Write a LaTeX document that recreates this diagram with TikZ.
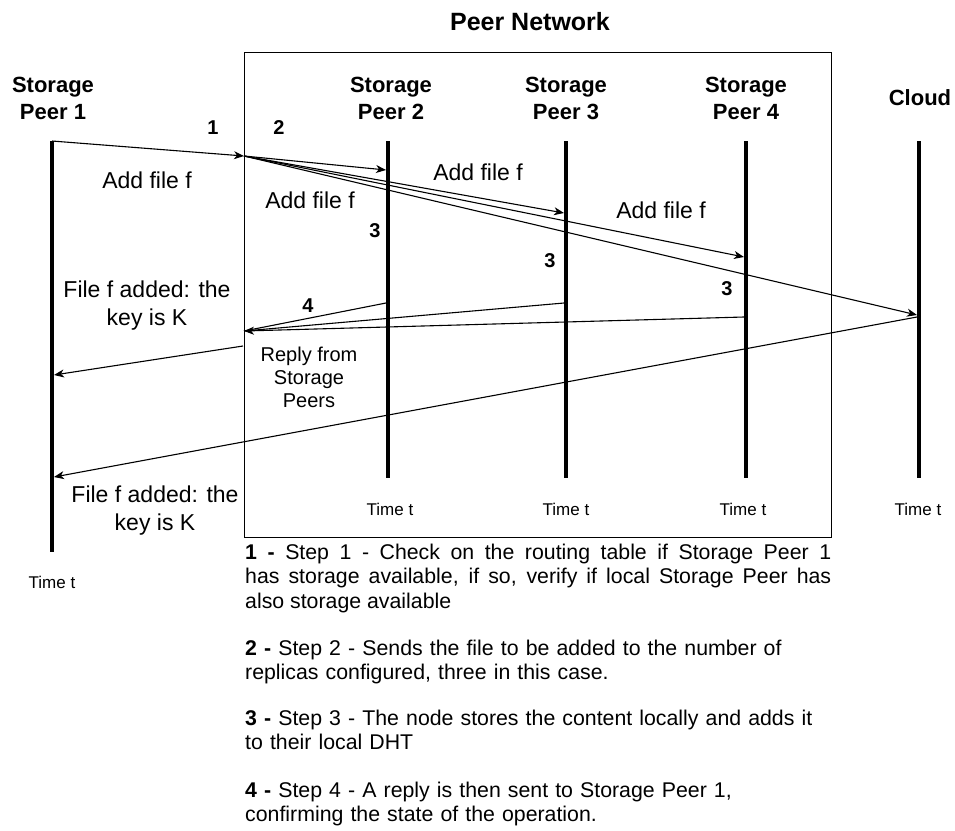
\documentclass[tikz,border=0pt]{standalone}
\usepackage{fontspec}
\setmainfont{Liberation Sans}
\usetikzlibrary{arrows.meta}
\begin{document}
\begin{tikzpicture}[x=1pt,y=-1pt,
  lifeline/.style={line width=4pt},
  msg/.style={line width=1.1pt,-{Stealth[length=10pt,width=8pt,inset=3pt]}},
  plain/.style={line width=1.1pt},
  head/.style={font=\bfseries\fontsize{22}{27}\selectfont,align=center,anchor=base,inner sep=0},
  lbl/.style={font=\fontsize{23}{27.5}\selectfont,align=center,anchor=base,inner sep=0},
  small/.style={font=\fontsize{20}{23}\selectfont,align=center,anchor=base,inner sep=0},
  num/.style={font=\bfseries\fontsize{20}{24}\selectfont,anchor=base,inner sep=0},
  timelbl/.style={font=\fontsize{17}{20}\selectfont,anchor=base,inner sep=0},
  steptext/.style={font=\fontsize{21.3}{24.5}\selectfont,anchor=base west,inner sep=0,text width=586pt}]
\useasboundingbox (0,0) rectangle (955,830);
% box
\draw[line width=1pt] (244,52) rectangle (831,537);
\node[font=\bfseries\fontsize{25}{30}\selectfont,anchor=base,inner sep=0] (title) at (530,30) {Peer Network};
% headings (base = last line)
\node[head] (h1) at (53,119) {Storage\\Peer 1};
\node[head] (h2) at (391,119) {Storage\\Peer 2};
\node[head] (h3) at (566,119) {Storage\\Peer 3};
\node[head] (h4) at (746,119) {Storage\\Peer 4};
\node[head] (h5) at (920,105) {Cloud};
% lifelines
\coordinate (p1t) at (52,141); \coordinate (p1b) at (52,552);
\coordinate (p2t) at (388,141); \coordinate (p2b) at (388,478);
\coordinate (p3t) at (566,141); \coordinate (p3b) at (566,478);
\coordinate (p4t) at (746,141); \coordinate (p4b) at (746,478);
\coordinate (p5t) at (919,141); \coordinate (p5b) at (919,478);
\draw[lifeline] (p1t) -- (p1b);
\draw[lifeline] (p2t) -- (p2b);
\draw[lifeline] (p3t) -- (p3b);
\draw[lifeline] (p4t) -- (p4b);
\draw[lifeline] (p5t) -- (p5b);
% time labels
\node[timelbl] (t1) at (52,588) {Time t};
\node[timelbl] (t2) at (390,515) {Time t};
\node[timelbl] (t3) at (566,515) {Time t};
\node[timelbl] (t4) at (743,515) {Time t};
\node[timelbl] (t5) at (918,515) {Time t};
% message points
\coordinate (in) at (244,156);
\coordinate (a2) at (386,170);
\coordinate (a3) at (564,213);
\coordinate (a4) at (744,257);
\coordinate (a5) at (917,315);
\coordinate (r2) at (386,303);
\coordinate (r3) at (564,303);
\coordinate (r4) at (744,317);
\coordinate (rin) at (244,331);
\coordinate (out) at (243,346);
\coordinate (o1) at (54,375);
\coordinate (c5) at (917,317);
\coordinate (o2) at (54,477);
% messages
\draw[msg] (p1t) -- (in);
\draw[msg] (in) -- (a2);
\draw[msg] (in) -- (a3);
\draw[msg] (in) -- (a4);
\draw[msg] (in) -- (a5);
\draw[plain] (r2) -- (rin);
\draw[plain] (r3) -- (rin);
\draw[msg] (r4) -- (rin);
\draw[msg] (out) -- (o1);
\draw[msg] (c5) -- (o2);
% labels
\node[lbl] (l1) at (147,188) {Add file f};
\node[lbl] (l2) at (310,208) {Add file f};
\node[lbl] (l3) at (478,180) {Add file f};
\node[lbl] (l4) at (661,218) {Add file f};
\node[lbl] (l5) at (147,325) {File f added: the\\key is K};
\node[lbl] (l6) at (155,530) {File f added: the\\key is K};
\node[small] (l7) at (309,407) {Reply from\\Storage\\Peers};
% numbers
\node[num] (n1) at (213,134) {1};
\node[num] (n2) at (279,134) {2};
\node[num] (n3a) at (375,237) {3};
\node[num] (n3b) at (550,267) {3};
\node[num] (n3c) at (727,295) {3};
\node[num] (n4) at (308,312) {4};
% step descriptions
\node[steptext,align=justify] (s1) at (245,559) {\textbf{1 -} Step 1 - Check on the routing table if Storage Peer 1\linebreak has storage available, if so, verify if local Storage Peer has\linebreak also storage available};
\node[steptext,align=left] (s2) at (245,655) {\textbf{2 -} Step 2 - Sends the file to be added to the number of\\replicas configured, three in this case.};
\node[steptext,align=left] (s3) at (245,725) {\textbf{3 -} Step 3 - The node stores the content locally and adds it\\to their local DHT};
\node[steptext,align=left] (s4) at (245,797) {\textbf{4 -} Step 4 - A reply is then sent to Storage Peer 1,\\confirming the state of the operation.};
\end{tikzpicture}
\end{document}
